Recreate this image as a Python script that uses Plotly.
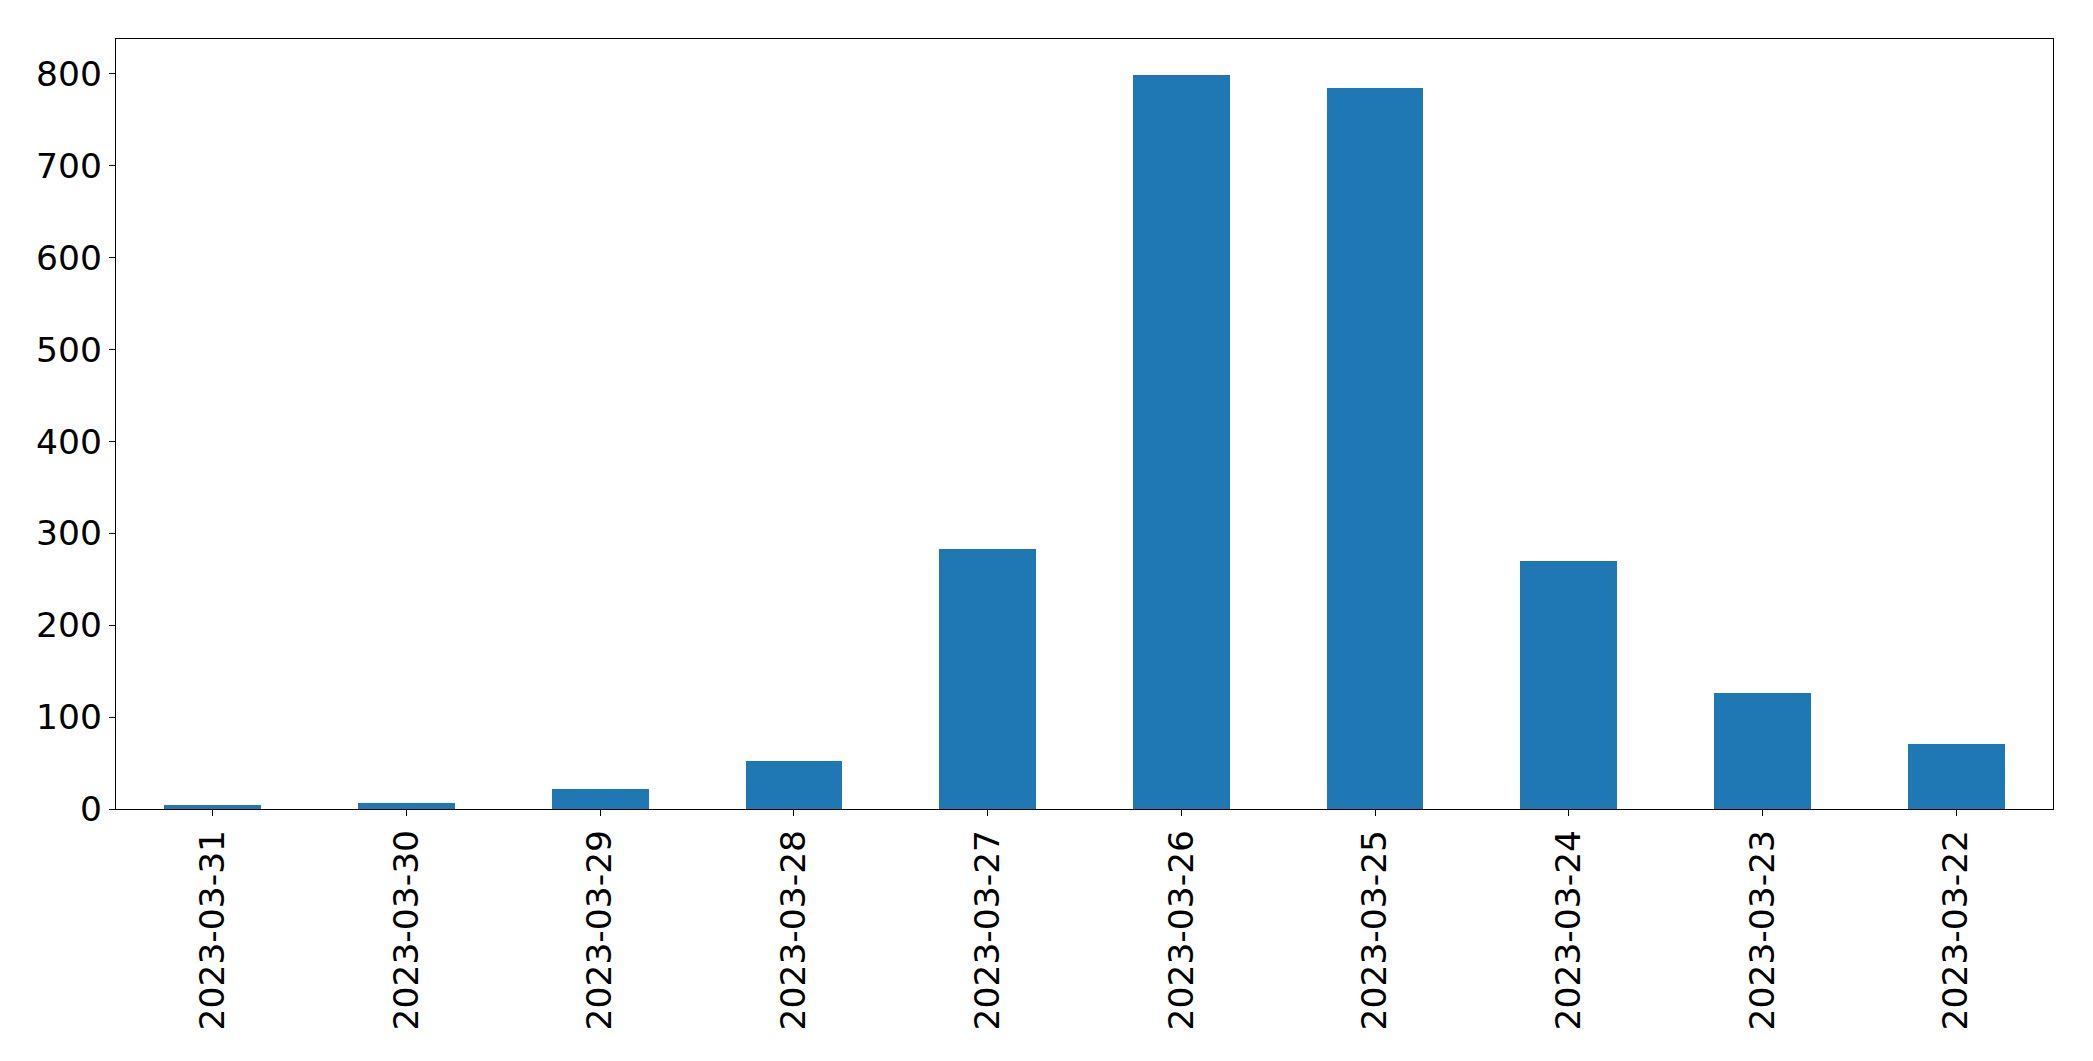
import plotly.graph_objects as go

dates = ["2023-03-31", "2023-03-30", "2023-03-29", "2023-03-28", "2023-03-27",
         "2023-03-26", "2023-03-25", "2023-03-24", "2023-03-23", "2023-03-22"]
counts = [4, 7, 22, 52, 283, 799, 785, 270, 126, 71]
y_ticks = [0, 100, 200, 300, 400, 500, 600, 700, 800]

fig = go.Figure(go.Bar(x=dates, y=counts, width=0.5, marker_color="#1f77b4",
                       marker_line_width=0))

axis_common = dict(showline=True, linecolor="black", linewidth=1.3, mirror=True,
                   ticks="outside", ticklen=6, tickwidth=1.3, tickcolor="black",
                   showgrid=False, zeroline=False,
                   tickfont=dict(family="DejaVu Sans", size=34.5, color="black"))

# page body has an 8px margin; figure sized/offset so the plot area lands
# at the reference's pixel position
fig.update_layout(
    width=2077, height=1045,
    margin=dict(l=108, r=32, t=31, b=244),
    plot_bgcolor="white", paper_bgcolor="white",
    showlegend=False,
    bargap=0,
)
fig.update_xaxes(type="category", tickangle=-90, range=[-0.5, 9.5], **axis_common)
fig.update_yaxes(range=[0, 838], tickvals=y_ticks, **axis_common)

fig.write_html("out.html")
